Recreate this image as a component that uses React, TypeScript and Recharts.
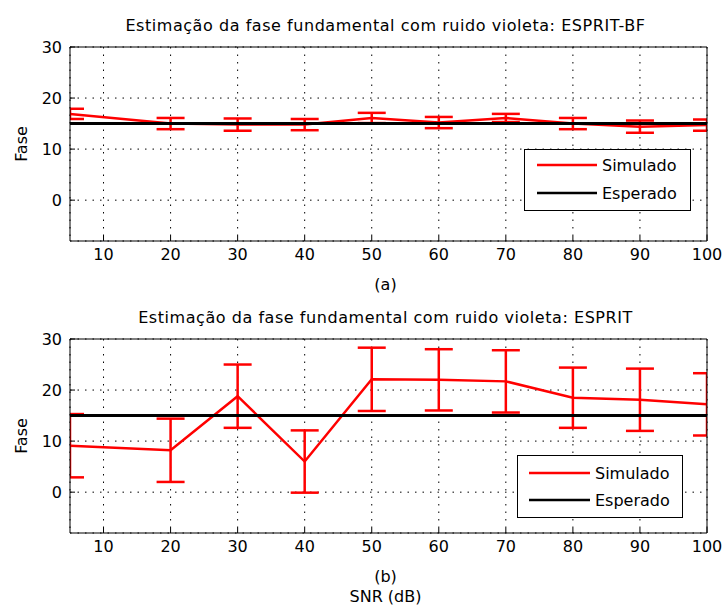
import React from 'react'
import {
  ComposedChart, Line, XAxis, YAxis, CartesianGrid, ErrorBar, Legend,
} from 'recharts'

// SNR (dB) em que cada estimativa foi feita
const SNR = [5, 20, 30, 40, 50, 60, 70, 80, 90, 100]

// (a) ESPRIT-BF
const FASE_BF = [16.9, 15.0, 14.8, 14.8, 16.1, 15.2, 16.1, 15.0, 14.4, 14.7]
const ERRO_BF = [1.0, 1.1, 1.2, 1.1, 1.0, 1.1, 0.8, 1.1, 1.2, 1.1]

// (b) ESPRIT
const FASE_ESPRIT = [9.1, 8.2, 18.8, 6.0, 22.1, 22.0, 21.7, 18.5, 18.1, 17.2]
const ERRO_ESPRIT = [6.2, 6.2, 6.2, 6.1, 6.2, 6.0, 6.1, 5.9, 6.1, 6.1]

const ESPERADO = 15

const X_TICKS = [10, 20, 30, 40, 50, 60, 70, 80, 90, 100]
const Y_TICKS = [0, 10, 20, 30]
const X_DOMAIN = [5, 100]
const Y_DOMAIN = [-8, 30]

const FONT = '"DejaVu Sans", sans-serif'
const W = 723
const PLOT_L = 70
const PLOT_R = 707

function LegendBox({ w, h, x0, x1, rows }: { w: number; h: number; x0: number; x1: number; rows: number[] }) {
  return (
    <svg width={w} height={h} style={{ display: 'block', background: '#fff', border: '1px solid #000', boxSizing: 'border-box' }}>
      <line x1={x0} x2={x1} y1={rows[0]} y2={rows[0]} stroke="#ff0000" strokeWidth={2.5} />
      <text x={x1 + 5} y={rows[0]} dominantBaseline="central" fontSize={16} fontFamily={FONT}>Simulado</text>
      <line x1={x0} x2={x1} y1={rows[1]} y2={rows[1]} stroke="#000" strokeWidth={2.5} />
      <text x={x1 + 5} y={rows[1]} dominantBaseline="central" fontSize={16} fontFamily={FONT}>Esperado</text>
    </svg>
  )
}

function Painel({ id, top, height, plotTop, plotBottom, title, fase, erro, sub, xlabel, legend }: {
  id: string; top: number; height: number; plotTop: number; plotBottom: number; title: string
  fase: number[]; erro: number[]; sub: string; xlabel?: string
  legend: { left: number; top: number; w: number; h: number; x0: number; x1: number; rows: number[] }
}) {
  const data = SNR.map((s, i) => ({ snr: s, fase: fase[i], err: erro[i], esperado: ESPERADO }))
  const cx = (PLOT_L + PLOT_R) / 2
  const midY = (plotTop + plotBottom) / 2
  const tickStyle = { fontSize: 16, fill: '#000', fontFamily: FONT }
  const clipId = `clip-${id}`

  return (
    <div style={{ position: 'absolute', left: 0, top, width: W, height }}>
      <ComposedChart width={W} height={height} data={data} margin={{ top: 0, right: 0, bottom: 0, left: 0 }}>
        <defs>
          <clipPath id={clipId}>
            <rect x={PLOT_L} y={plotTop} width={PLOT_R - PLOT_L} height={plotBottom - plotTop} />
          </clipPath>
        </defs>
        <CartesianGrid stroke="#000" strokeWidth={1} strokeDasharray="1.5 6" />
        <XAxis dataKey="snr" type="number" domain={X_DOMAIN} ticks={X_TICKS} allowDataOverflow
          height={height - plotBottom} tickSize={-5} tickMargin={13}
          axisLine={{ stroke: '#000' }} tickLine={{ stroke: '#000' }} tick={tickStyle} />
        <XAxis xAxisId="top" orientation="top" type="number" domain={X_DOMAIN} ticks={X_TICKS}
          height={plotTop} tickSize={-5} tickFormatter={() => ''}
          axisLine={{ stroke: '#000' }} tickLine={{ stroke: '#000' }} />
        <YAxis type="number" domain={Y_DOMAIN} ticks={Y_TICKS} allowDataOverflow
          width={PLOT_L} tickSize={-5} tickMargin={13}
          axisLine={{ stroke: '#000' }} tickLine={{ stroke: '#000' }} tick={tickStyle} />
        <YAxis yAxisId="right" orientation="right" type="number" domain={Y_DOMAIN} ticks={Y_TICKS}
          width={W - PLOT_R} tickSize={-5} tickFormatter={() => ''}
          axisLine={{ stroke: '#000' }} tickLine={{ stroke: '#000' }} />

        <Line dataKey="fase" type="linear" stroke="#ff0000" strokeWidth={2.5} dot={false} isAnimationActive={false}>
          <ErrorBar dataKey="err" direction="y" width={14} stroke="#ff0000" strokeWidth={2.5}
            clipPath={`url(#${clipId})`} isAnimationActive={false} />
        </Line>
        <Line dataKey="esperado" type="linear" stroke="#000" strokeWidth={3} dot={false} isAnimationActive={false} />

        <Legend layout="horizontal" verticalAlign="middle" align="center"
          content={() => <LegendBox {...legend} />}
          wrapperStyle={{ position: 'absolute', left: legend.left, top: legend.top, width: legend.w, height: legend.h, bottom: 'auto', right: 'auto' }} />

        <text x={cx - 3} y={plotTop - 22} textAnchor="middle" dominantBaseline="central" fontSize={16}
          letterSpacing={0.55} fontFamily={FONT}>{title}</text>
        <text x={21} y={midY} textAnchor="middle" dominantBaseline="central" fontSize={16} fontFamily={FONT}
          transform={`rotate(-90, 21, ${midY})`}>Fase</text>
        <text x={cx - 3} y={plotBottom + 43} textAnchor="middle" dominantBaseline="central" fontSize={16} fontFamily={FONT}>{sub}</text>
        {xlabel && (
          <text x={cx - 3} y={plotBottom + 63} textAnchor="middle" dominantBaseline="central" fontSize={16} fontFamily={FONT}>{xlabel}</text>
        )}
      </ComposedChart>
    </div>
  )
}

export default function App() {
  return (
    <div style={{ position: 'absolute', left: 0, top: 0, width: W, height: 608, background: '#fff' }}>
      <Painel id="a" top={0} height={300} plotTop={47} plotBottom={241}
        title="Estimação da fase fundamental com ruido violeta: ESPRIT-BF"
        fase={FASE_BF} erro={ERRO_BF} sub="(a)"
        legend={{ left: 524, top: 149, w: 167, h: 62, x0: 12, x1: 72, rows: [15, 43] }} />
      <Painel id="b" top={300} height={308} plotTop={39} plotBottom={233}
        title="Estimação da fase fundamental com ruido violeta: ESPRIT"
        fase={FASE_ESPRIT} erro={ERRO_ESPRIT} sub="(b)" xlabel="SNR (dB)"
        legend={{ left: 517, top: 155, w: 166, h: 63, x0: 11, x1: 72, rows: [17, 44] }} />
    </div>
  )
}
